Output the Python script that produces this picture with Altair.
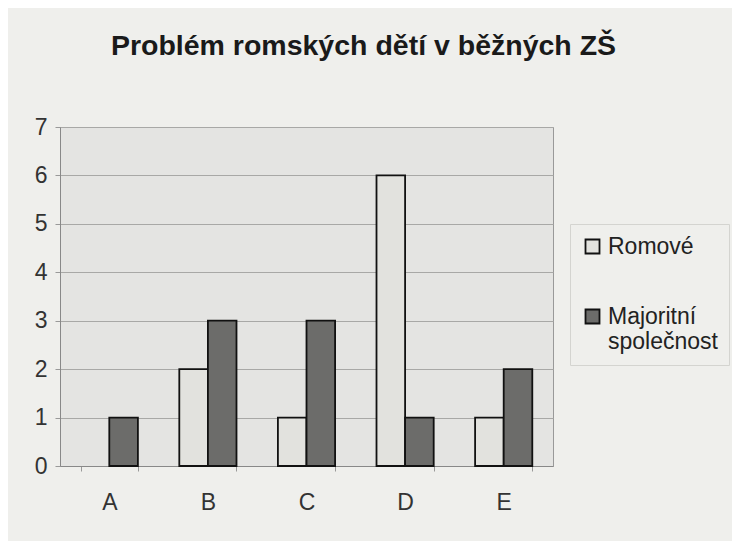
import altair as alt
import pandas as pd

categories = ["A", "B", "C", "D", "E"]
romove = [0, 2, 1, 6, 1]
majoritni = [1, 3, 3, 1, 2]
series = ["Romové", "Majoritní\nspolečnost"]

rows = []
for c, r, m in zip(categories, romove, majoritni):
    rows.append({"kat": c, "skupina": series[0], "hodnota": r})
    rows.append({"kat": c, "skupina": series[1], "hodnota": m})
df = pd.DataFrame(rows)

font = "Liberation Sans"

chart = alt.Chart(df).mark_bar(stroke="#111111", strokeWidth=1.8).encode(
    x=alt.X("kat:N", title=None, sort=categories,
            scale=alt.Scale(paddingInner=0.42, paddingOuter=0.21),
            axis=alt.Axis(labelAngle=0, labelFontSize=23, labelFont=font, labelColor="#333333",
                          labelPadding=20, domainColor="#888888", tickColor="#999999",
                          tickBand="extent", tickSize=5, grid=False)),
    xOffset=alt.XOffset("skupina:N", sort=series),
    y=alt.Y("hodnota:Q", title=None,
            scale=alt.Scale(domain=[0, 7], nice=False),
            axis=alt.Axis(values=[0, 1, 2, 3, 4, 5, 6, 7], labelFontSize=23, labelFont=font,
                          labelColor="#333333", labelPadding=8, domainColor="#888888",
                          tickColor="#999999", tickSize=5, gridColor="#a8a8a6", gridWidth=1)),
    color=alt.Color("skupina:N", sort=series,
                    scale=alt.Scale(domain=series, range=["#e2e2de", "#6c6c6a"]),
                    legend=alt.Legend(title=None, orient="none", legendX=510, legendY=97,
                                      labelExpr="split(datum.label, '\\n')",
                                      labelFont=font, labelFontSize=23, labelColor="#222222",
                                      symbolType="square", symbolSize=196, symbolStrokeColor="#111111",
                                      symbolStrokeWidth=1.8, symbolOpacity=1,
                                      rowPadding=46, labelOffset=4,
                                      strokeColor="#d4d4d0", padding=11)),
    strokeOpacity=alt.condition("datum.hodnota == 0", alt.value(0), alt.value(1)),
).properties(
    width=493, height=339,
    title=alt.TitleParams("Problém romských dětí v běžných ZŠ", fontSize=28.5, font=font,
                          fontWeight="bold", color="#1a1a1a", anchor="middle", dx=57, offset=56),
    background="#efefec",
    padding={"left": 52, "top": 119, "right": 179, "bottom": 75},
    autosize=alt.AutoSizeParams(type="none"),
).configure_view(fill="#e4e4e2", stroke="#999999")

chart.save("out.html", embed_options={"renderer": "svg", "actions": False})
